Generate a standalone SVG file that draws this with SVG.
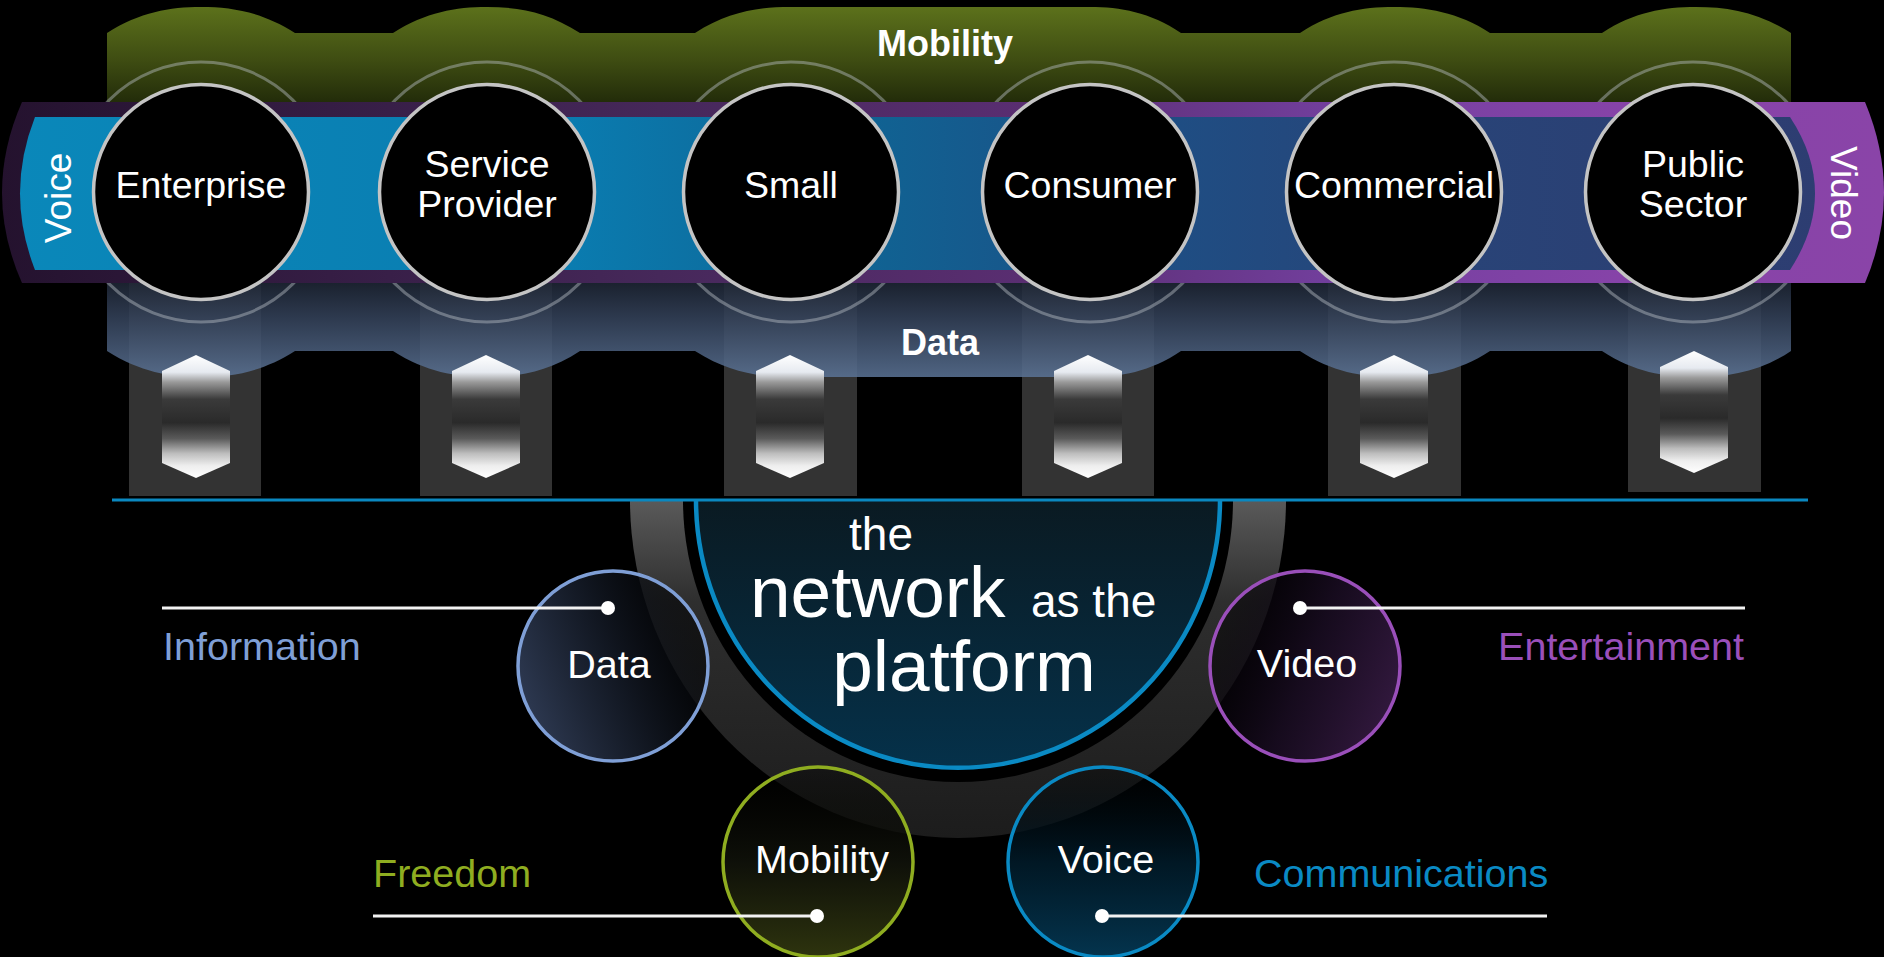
<svg xmlns="http://www.w3.org/2000/svg" width="1884" height="957" viewBox="0 0 1884 957">
<defs>
<style>
.t{font-family:"Liberation Sans",Arial,sans-serif;fill:#fff}
.seg{fill:#000;stroke:#c4c4c4;stroke-width:3.5}
.halo{fill:none;stroke:#b8bec6;stroke-opacity:0.45;stroke-width:3}
.pillar{fill:#333}
.hex{fill:url(#hexG)}
.lead{stroke:#f2f2f2;stroke-width:3;fill:none}
.dot{fill:#fff}
.ct{font-size:37.5px;text-anchor:middle}
.bt{font-size:39.5px}
</style>
<linearGradient id="greenG" x1="0" y1="7" x2="0" y2="115" gradientUnits="userSpaceOnUse">
<stop offset="0" stop-color="#5c711b"/><stop offset="0.5" stop-color="#3e4c12"/><stop offset="1" stop-color="#1a2207"/>
</linearGradient>
<linearGradient id="dataG" x1="0" y1="270" x2="0" y2="377" gradientUnits="userSpaceOnUse">
<stop offset="0" stop-color="#161c28"/><stop offset="0.45" stop-color="#34425a"/><stop offset="1" stop-color="#5a7294"/>
</linearGradient>
<linearGradient id="purpleG" x1="0" y1="0" x2="1884" y2="0" gradientUnits="userSpaceOnUse">
<stop offset="0" stop-color="#24122e"/><stop offset="0.35" stop-color="#46285a"/><stop offset="0.55" stop-color="#5a2e72"/><stop offset="0.72" stop-color="#7440a0"/><stop offset="0.86" stop-color="#8643a8"/><stop offset="1" stop-color="#8a44a8"/>
</linearGradient>
<linearGradient id="blueG" x1="0" y1="0" x2="1884" y2="0" gradientUnits="userSpaceOnUse">
<stop offset="0" stop-color="#0a88ba"/><stop offset="0.3" stop-color="#0a7cb0"/><stop offset="0.45" stop-color="#0f6494"/><stop offset="0.6" stop-color="#1d4f85"/><stop offset="0.75" stop-color="#284478"/><stop offset="1" stop-color="#2e3c70"/>
</linearGradient>
<linearGradient id="hexG" x1="0" y1="0" x2="0" y2="1">
<stop offset="0" stop-color="#ffffff"/><stop offset="0.14" stop-color="#e6eaf0"/><stop offset="0.22" stop-color="#9a9a9a"/><stop offset="0.36" stop-color="#3a3a3a"/><stop offset="0.55" stop-color="#2a2a2a"/><stop offset="0.68" stop-color="#5a5a5a"/><stop offset="0.8" stop-color="#bdbdbd"/><stop offset="0.9" stop-color="#eeeeee"/><stop offset="1" stop-color="#ffffff"/>
</linearGradient>
<linearGradient id="ringG" x1="0" y1="500" x2="0" y2="838" gradientUnits="userSpaceOnUse">
<stop offset="0" stop-color="#5a5a5a"/><stop offset="0.3" stop-color="#2e2e2e"/><stop offset="1" stop-color="#1c1c1c"/>
</linearGradient>
<linearGradient id="coreG" x1="0" y1="500" x2="0" y2="768" gradientUnits="userSpaceOnUse">
<stop offset="0" stop-color="#0a1a22"/><stop offset="1" stop-color="#05314a"/>
</linearGradient>
<linearGradient id="dataC" x1="0" y1="0.7" x2="1" y2="0.3">
<stop offset="0" stop-color="#2f3b54"/><stop offset="0.5" stop-color="#141a26" stop-opacity="0.9"/><stop offset="1" stop-color="#000" stop-opacity="0.55"/>
</linearGradient>
<linearGradient id="videoC" x1="0" y1="0.3" x2="1" y2="0.7">
<stop offset="0" stop-color="#000" stop-opacity="0.5"/><stop offset="0.5" stop-color="#180c20" stop-opacity="0.9"/><stop offset="1" stop-color="#33193f"/>
</linearGradient>
<linearGradient id="mobC" x1="0" y1="0" x2="0" y2="1">
<stop offset="0" stop-color="#000" stop-opacity="0.35"/><stop offset="0.5" stop-color="#10120a" stop-opacity="0.9"/><stop offset="1" stop-color="#2e340e"/>
</linearGradient>
<linearGradient id="voiceC" x1="0" y1="0" x2="0" y2="1">
<stop offset="0" stop-color="#000" stop-opacity="0.35"/><stop offset="0.5" stop-color="#011a28" stop-opacity="0.9"/><stop offset="1" stop-color="#04344e"/>
</linearGradient>
</defs>

<rect x="0" y="0" width="1884" height="957" fill="#000"/>

<g id="pillars">
<rect class="pillar" x="129" y="283" width="132" height="213"/>
<rect class="pillar" x="420" y="283" width="132" height="213"/>
<rect class="pillar" x="724" y="283" width="133" height="213"/>
<rect class="pillar" x="1022" y="283" width="132" height="213"/>
<rect class="pillar" x="1328" y="283" width="133" height="213"/>
<rect class="pillar" x="1628" y="283" width="133" height="209"/>
</g>

<g id="band-mobility">
<path fill="url(#greenG)" d="M107,150 L107,33 C140,12 170,7 201,7 C232,7 262,12 295,33 L393,33 C426,12 456,7 487,7 C518,7 548,12 580,33 L695,33 C728,12 758,7 790,7 L1090,7 C1120,7 1150,12 1181,33 L1300,33 C1332,12 1362,7 1394,7 C1426,7 1458,12 1490,33 L1602,33 C1634,12 1664,7 1696,7 C1728,7 1758,12 1791,33 L1791,150 Z"/>
<text class="t" x="945" y="56" font-size="36" font-weight="bold" text-anchor="middle">Mobility</text>
</g>

<g id="band-data">
<path fill="url(#dataG)" fill-opacity="0.88" d="M107,260 L1791,260 L1791,351 C1760,372 1728,377 1696,377 C1664,377 1634,372 1602,351 L1490,351 C1458,372 1426,377 1394,377 C1362,377 1332,372 1300,351 L1181,351 C1150,372 1120,377 1090,377 L790,377 C758,377 728,372 695,351 L580,351 C548,372 518,377 487,377 C456,377 426,372 393,351 L295,351 C262,372 232,377 201,377 C170,377 140,372 107,351 Z"/>
<text class="t" x="940" y="355" font-size="36" font-weight="bold" text-anchor="middle">Data</text>
</g>

<g id="halos">
<circle class="halo" cx="201" cy="192" r="130"/>
<circle class="halo" cx="487" cy="192" r="130"/>
<circle class="halo" cx="791" cy="192" r="130"/>
<circle class="halo" cx="1090" cy="192" r="130"/>
<circle class="halo" cx="1394" cy="192" r="130"/>
<circle class="halo" cx="1693" cy="192" r="130"/>
</g>

<g id="band-video">
<path fill="url(#purpleG)" d="M22,102 L1865,102 Q1903,193 1865,283 L22,283 Q-18,193 22,102 Z"/>
<text class="t" transform="translate(1831,193) rotate(90)" font-size="37" text-anchor="middle">Video</text>
</g>

<g id="band-voice">
<path fill="url(#blueG)" d="M35,117 L1790,117 Q1840,193 1790,270 L35,270 Q5,193 35,117 Z"/>
<text class="t" transform="translate(71,198) rotate(-90)" font-size="37" text-anchor="middle">Voice</text>
</g>

<g id="arrows">
<polygon class="hex" points="162,371 196,355 230,371 230,463 196,478 162,463"/>
<polygon class="hex" points="452,371 486,355 520,371 520,463 486,478 452,463"/>
<polygon class="hex" points="756,371 790,355 824,371 824,463 790,478 756,463"/>
<polygon class="hex" points="1054,371 1088,355 1122,371 1122,463 1088,478 1054,463"/>
<polygon class="hex" points="1360,371 1394,355 1428,371 1428,463 1394,478 1360,463"/>
<polygon class="hex" points="1660,367 1694,351 1728,367 1728,458 1694,473 1660,458"/>
</g>

<g id="node-enterprise">
<circle class="seg" cx="201" cy="192" r="107.5"/>
<text class="t ct" x="201" y="198">Enterprise</text>
</g>
<g id="node-service-provider">
<circle class="seg" cx="487" cy="192" r="107.5"/>
<text class="t ct" x="487" y="177">Service</text>
<text class="t ct" x="487" y="217">Provider</text>
</g>
<g id="node-small">
<circle class="seg" cx="791" cy="192" r="107.5"/>
<text class="t ct" x="791" y="198">Small</text>
</g>
<g id="node-consumer">
<circle class="seg" cx="1090" cy="192" r="107.5"/>
<text class="t ct" x="1090" y="198">Consumer</text>
</g>
<g id="node-commercial">
<circle class="seg" cx="1394" cy="192" r="107.5"/>
<text class="t ct" x="1394" y="198">Commercial</text>
</g>
<g id="node-public-sector">
<circle class="seg" cx="1693" cy="192" r="107.5"/>
<text class="t ct" x="1693" y="177">Public</text>
<text class="t ct" x="1693" y="217">Sector</text>
</g>

<g id="node-platform">
<path fill="url(#ringG)" d="M630,500 A328,338 0 0 0 1286,500 Z"/>
<path fill="#000" d="M683,500 A275,282 0 0 0 1233,500 Z"/>
<path fill="url(#coreG)" stroke="#0a8ac4" stroke-width="4.5" d="M696,500 A262,268 0 0 0 1220,500"/>
<text class="t" x="881" y="550" font-size="46" text-anchor="middle">the</text>
<text class="t" x="750" y="617" font-size="73">network</text>
<text class="t" x="1031" y="617" font-size="46">as the</text>
<text class="t" x="964" y="691" font-size="73" text-anchor="middle">platform</text>
</g>

<line x1="112" y1="500" x2="1808" y2="500" stroke="#0a88c0" stroke-width="3"/>

<g id="node-data">
<circle cx="613" cy="666" r="95" fill="url(#dataC)" stroke="#7f9fd6" stroke-width="3.5"/>
<text class="t bt" x="609" y="678" text-anchor="middle">Data</text>
</g>
<g id="node-video">
<circle cx="1305" cy="666" r="95" fill="url(#videoC)" stroke="#9a4fba" stroke-width="3.5"/>
<text class="t bt" x="1307" y="677" text-anchor="middle">Video</text>
</g>
<g id="node-mobility">
<circle cx="818" cy="862" r="95" fill="url(#mobC)" stroke="#8fad20" stroke-width="3.5"/>
<text class="t bt" x="822" y="873" text-anchor="middle">Mobility</text>
</g>
<g id="node-voice">
<circle cx="1103" cy="862" r="95" fill="url(#voiceC)" stroke="#0a8ac4" stroke-width="3.5"/>
<text class="t bt" x="1106" y="873" text-anchor="middle">Voice</text>
</g>

<g id="connectors">
<line class="lead" x1="162" y1="608" x2="608" y2="608"/>
<circle class="dot" cx="608" cy="608" r="7"/>
<line class="lead" x1="1300" y1="608" x2="1745" y2="608"/>
<circle class="dot" cx="1300" cy="608" r="7"/>
<line class="lead" x1="373" y1="916" x2="817" y2="916"/>
<circle class="dot" cx="817" cy="916" r="7"/>
<line class="lead" x1="1102" y1="916" x2="1547" y2="916"/>
<circle class="dot" cx="1102" cy="916" r="7"/>
</g>

<g id="labels">
<text class="bt" x="163" y="660" font-family="Liberation Sans, Arial, sans-serif" fill="#7f9fd6">Information</text>
<text class="bt" x="1744" y="660" text-anchor="end" font-family="Liberation Sans, Arial, sans-serif" fill="#9a4fba">Entertainment</text>
<text class="bt" x="373" y="887" font-family="Liberation Sans, Arial, sans-serif" fill="#8fad20">Freedom</text>
<text class="bt" x="1254" y="887" font-family="Liberation Sans, Arial, sans-serif" fill="#0a8ac4">Communications</text>
</g>
</svg>
